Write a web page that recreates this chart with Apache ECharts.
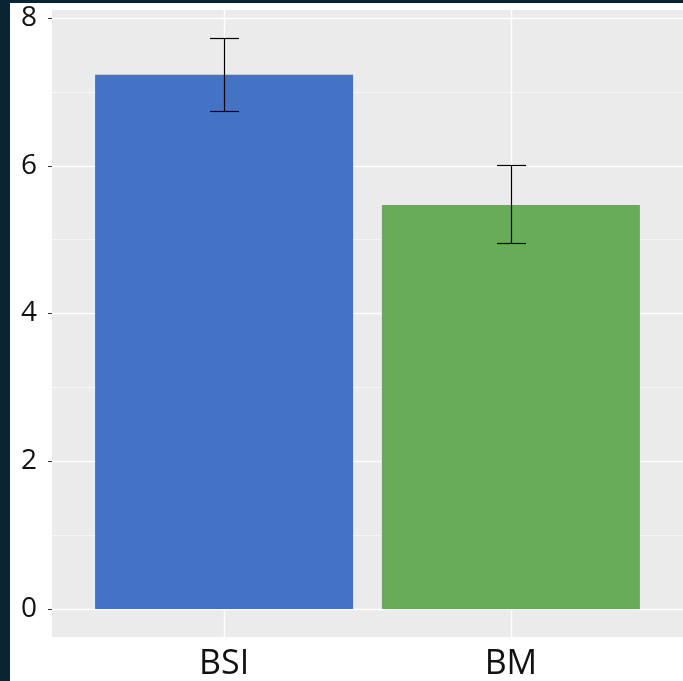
<!DOCTYPE html>
<html><head><meta charset="utf-8">
<script src="https://cdn.jsdelivr.net/npm/echarts@6/dist/echarts.min.js"></script>
<style>
html,body{margin:0;padding:0;background:#fff;}
#c{width:683px;height:681px;position:absolute;left:0;top:0;}
#bl{position:absolute;left:0;top:0;width:10px;height:681px;background:#0b2431;}
#bt{position:absolute;left:0;top:0;width:683px;height:3px;background:#0b2431;}
</style></head>
<body>
<div id="c"></div><div id="bl"></div><div id="bt"></div>
<script>
const categories = ['BSI', 'BM'];
const means = [7.23, 5.47];
const errLow = [6.74, 4.95];
const errHigh = [7.73, 6.01];
const colors = ['#4472C4', '#68AB58'];
const yTicks = [0, 2, 4, 6, 8];
const yMinor = [1, 3, 5, 7];

const chart = echarts.init(document.getElementById('c'));
const xPos = categories.map((c, i) => i + 1);
const font = '"Open Sans", "DejaVu Sans", sans-serif';

chart.setOption({
  animation: false,
  grid: {left: 52, right: 0, top: 10, bottom: 43, show: true, backgroundColor: '#EBEBEB', borderWidth: 0},
  xAxis: {
    type: 'value', min: 0.4, max: 2.6,
    axisLine: {show: false},
    splitLine: {show: false},
    axisTick: {show: true, customValues: xPos, length: 4, lineStyle: {color: '#333', width: 1}},
    axisLabel: {customValues: xPos, formatter: v => categories[Math.round(v) - 1] || '', color: '#111', fontSize: 34, fontFamily: font, margin: 10}
  },
  yAxis: {
    type: 'value', min: -0.378, max: 8.108,
    axisLine: {show: false},
    splitLine: {show: false},
    axisTick: {show: true, customValues: yTicks, length: 4, lineStyle: {color: '#333', width: 1}},
    axisLabel: {customValues: yTicks, color: '#111', fontSize: 28, fontFamily: font, margin: 15, padding: [6, 0, 0, 0]}
  },
  series: [
    {
      type: 'scatter', z: 1, symbolSize: 0, data: [[1, 0]], silent: true,
      markLine: {
        silent: true, symbol: 'none', label: {show: false}, animation: false, z: 1,
        data: [
          ...yTicks.map(v => ({yAxis: v, lineStyle: {color: '#fff', width: 1.4, type: 'solid'}})),
          ...yMinor.map(v => ({yAxis: v, lineStyle: {color: '#fafafa', width: 0.7, type: 'solid'}})),
          ...xPos.map(v => ({xAxis: v, lineStyle: {color: '#fff', width: 1.4, type: 'solid'}}))
        ]
      }
    },
    {
      type: 'bar', z: 10, barWidth: 258,
      data: means.map((m, i) => ({value: [xPos[i], m], itemStyle: {color: colors[i]}}))
    },
    {
      type: 'custom', z: 12,
      data: means.map((m, i) => [xPos[i], errLow[i], errHigh[i]]),
      renderItem: function (params, api) {
        const x = api.value(0);
        const lo = api.coord([x, api.value(1)]);
        const hi = api.coord([x, api.value(2)]);
        const cx = Math.round(lo[0]) + 0.5;
        const ly = Math.round(lo[1]) + 0.5;
        const hy = Math.round(hi[1]) + 0.5;
        const hw = 14.5;
        const st = {stroke: '#000', lineWidth: 1.2};
        return {type: 'group', children: [
          {type: 'line', shape: {x1: cx, y1: ly, x2: cx, y2: hy}, style: st},
          {type: 'line', shape: {x1: cx - hw, y1: ly, x2: cx + hw, y2: ly}, style: st},
          {type: 'line', shape: {x1: cx - hw, y1: hy, x2: cx + hw, y2: hy}, style: st}
        ]};
      }
    }
  ]
});
</script>
</body></html>
